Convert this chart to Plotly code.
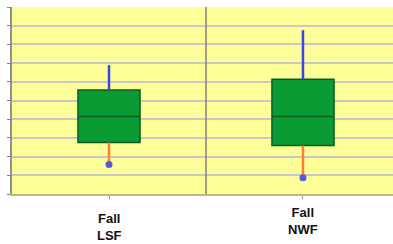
import plotly.graph_objects as go

categories = ["Fall<br>LSF", "Fall<br>NWF"]
mins = [1.58, 0.87]
q1s = [2.75, 2.59]
medians = [4.14, 4.14]
q3s = [5.56, 6.13]
maxs = [6.89, 8.76]
label_offsets = [-0.177, -0.144]  # paper-y centre of each category label

GREEN = "#0a9a32"
DARK_GREEN = "#0b5c22"
BLUE = "#3b46e0"
ORANGE = "#ff7f2a"
DOT = "#5558e0"

fig = go.Figure()

fig.add_trace(go.Box(
    x=categories, q1=q1s, median=medians, q3=q3s,
    lowerfence=q1s, upperfence=q3s,
    fillcolor=GREEN, line=dict(color=DARK_GREEN, width=1.5),
    width=0.32, boxpoints=False, hoverinfo="skip", showlegend=False,
))

for c, lo, a, b, hi in zip(categories, mins, q1s, q3s, maxs):
    fig.add_trace(go.Scatter(x=[c, c], y=[b, hi], mode="lines",
                             line=dict(color=BLUE, width=2.5), showlegend=False))
    fig.add_trace(go.Scatter(x=[c, c], y=[lo, a], mode="lines",
                             line=dict(color=ORANGE, width=2.5), showlegend=False))

fig.add_trace(go.Scatter(x=categories, y=mins, mode="markers",
                         marker=dict(color=DOT, size=7), showlegend=False))

for c, off in zip(categories, label_offsets):
    fig.add_annotation(x=c, y=off, xref="x", yref="paper", text="<b>" + c + "</b>",
                       showarrow=False, xanchor="center", yanchor="middle",
                       font=dict(family="Liberation Sans, Arial", size=13, color="#111111"))

fig.add_shape(type="line", xref="x", yref="paper", x0=0.5, x1=0.5, y0=0, y1=1,
              line=dict(color="#7f7f7f", width=1.5), layer="above")

fig.update_layout(
    width=393, height=244,
    margin=dict(l=12, r=0, t=7, b=50),
    paper_bgcolor="white", plot_bgcolor="#ffff99",
    xaxis=dict(range=[-0.5, 1.464], showticklabels=False, ticks="outside",
               ticklen=3, tickcolor="#999999", showgrid=False,
               showline=True, linecolor="#bbbb77", linewidth=2, zeroline=False),
    yaxis=dict(range=[0, 10], dtick=1, showticklabels=False, ticks="outside",
               ticklen=3, tickcolor="#808080", showgrid=True,
               gridcolor="#c8c8c8", gridwidth=1.5, showline=True,
               linecolor="#8f8f8f", linewidth=2, zeroline=False),
)

fig.write_html(
    "out.html", config={"displayModeBar": False},
    post_script=("document.documentElement.style.overflow='hidden';"
                 "document.body.style.margin='0';document.body.style.overflow='hidden';"),
)
